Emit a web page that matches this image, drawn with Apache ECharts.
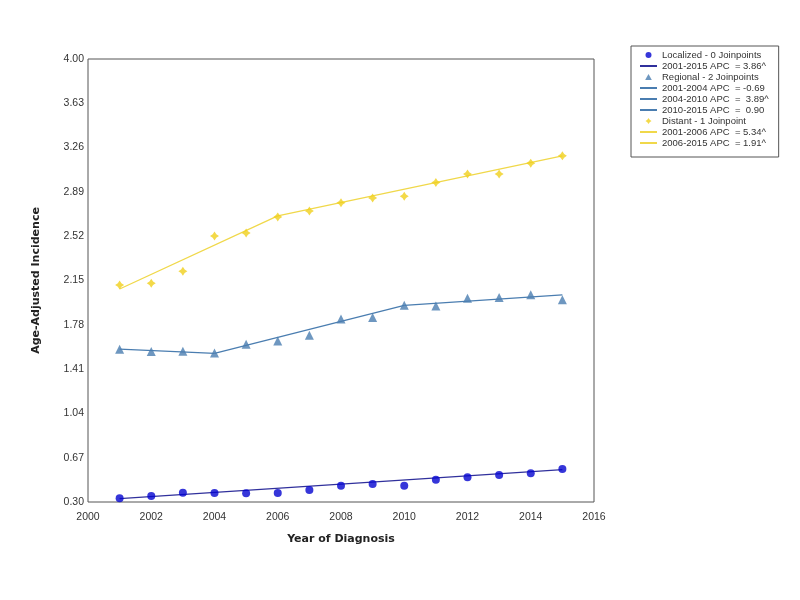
<!DOCTYPE html>
<html><head><meta charset="utf-8">
<script src="https://cdn.jsdelivr.net/npm/echarts@6/dist/echarts.min.js"></script>
<style>html,body{margin:0;padding:0;background:#fff}#c{width:800px;height:600px}</style>
</head><body><div id="c"></div>
<script>
const years = [2001,2002,2003,2004,2005,2006,2007,2008,2009,2010,2011,2012,2013,2014,2015];
const localizedObs = [0.331,0.350,0.378,0.375,0.373,0.375,0.400,0.436,0.450,0.436,0.486,0.506,0.526,0.540,0.576];
const regionalObs  = [1.576,1.556,1.559,1.545,1.617,1.645,1.692,1.828,1.840,1.943,1.937,2.002,2.007,2.032,1.990];
const distantObs   = [2.113,2.127,2.227,2.522,2.547,2.681,2.731,2.800,2.840,2.854,2.968,3.040,3.040,3.130,3.191];

const localizedFitYears = [2001,2015];
const localizedFit      = [0.328,0.570];
const regionalFit1Years = [2001,2004];
const regionalFit1      = [1.576,1.542];
const regionalFit2Years = [2004,2010];
const regionalFit2      = [1.542,1.943];
const regionalFit3Years = [2010,2015];
const regionalFit3      = [1.943,2.030];
const distantFit1Years  = [2001,2006];
const distantFit1       = [2.079,2.690];
const distantFit2Years  = [2006,2015];
const distantFit2       = [2.690,3.191];

const legendNames = [
  'Localized - 0 Joinpoints','2001-2015 APC  = 3.86^',
  'Regional - 2 Joinpoints','2001-2004 APC  = -0.69','2004-2010 APC  =  3.89^','2010-2015 APC  =  0.90',
  'Distant - 1 Joinpoint','2001-2006 APC  = 5.34^','2006-2015 APC  = 1.91^'
];

const zip = (xs, ys) => xs.map((x,i)=>[x, ys[i]]);
const cLoc = '#0404d0', cLocLine = '#30309c', cReg = '#4a7db0', cDist = '#f0d01c', cDistLine = '#f0d84a';
const star = 'path://M0,-10 L4,-4 L10,0 L4,4 L0,10 L-4,4 L-10,0 L-4,-4 Z';
const tri = 'path://M0,-10 L10,8 L-10,8 Z';

function lineS(name, xs, ys, color){
  return {name, type:'line', data: zip(xs, ys), symbol:'none', z:2,
    lineStyle:{color, width:1.3}, itemStyle:{color}, emphasis:{disabled:true}, animation:false};
}
function scatS(name, ys, color, symbol, size){
  return {name, type:'scatter', data: zip(years, ys), symbol, symbolSize:size, z:3,
    itemStyle:{color}, emphasis:{disabled:true}, animation:false};
}
const isLine = [false,true,false,true,true,true,false,true,true];
const legendData = legendNames.map((n,i)=> isLine[i] ? {name:n, itemStyle:{opacity:0}} : {name:n});

const chart = echarts.init(document.getElementById('c'));
chart.setOption({
  animation:false,
  backgroundColor:'#fff',
  textStyle:{fontFamily:'Liberation Sans, Arial, sans-serif'},
  grid:{left:88, right:206, top:59, bottom:98, show:true, borderColor:'#555', borderWidth:1, backgroundColor:'#fff'},
  xAxis:{type:'value', min:2000, max:2016, interval:2,
    name:'Year of Diagnosis', nameLocation:'middle', nameGap:32,
    nameTextStyle:{fontFamily:'DejaVu Sans', fontWeight:'bold', fontSize:11, color:'#222'},
    axisLine:{show:false}, axisTick:{show:false}, splitLine:{show:false},
    axisLabel:{color:'#333', fontSize:10.5, margin:10, formatter:v=>String(v)}},
  yAxis:{type:'value', min:0.3, max:4.0, interval:0.37,
    name:'Age-Adjusted Incidence', nameLocation:'middle', nameGap:46, nameRotate:90,
    nameTextStyle:{fontFamily:'DejaVu Sans', fontWeight:'bold', fontSize:11, color:'#222'},
    axisLine:{show:false}, axisTick:{show:false}, splitLine:{show:false},
    axisLabel:{color:'#333', fontSize:10.5, margin:4, formatter:v=>v.toFixed(2)}},
  legend:{orient:'vertical', left:631, top:46, padding:[4,10,9,8], itemGap:1,
    itemWidth:17, itemHeight:6, borderColor:'#555', borderWidth:1, backgroundColor:'#fff',
    textStyle:{fontSize:9.5, color:'#333', lineHeight:10}, data: legendData, selectedMode:false},
  series:[
    scatS(legendNames[0], localizedObs, cLoc, 'circle', 8),
    lineS(legendNames[1], localizedFitYears, localizedFit, cLocLine),
    scatS(legendNames[2], regionalObs, cReg, tri, 9),
    lineS(legendNames[3], regionalFit1Years, regionalFit1, cReg),
    lineS(legendNames[4], regionalFit2Years, regionalFit2, cReg),
    lineS(legendNames[5], regionalFit3Years, regionalFit3, cReg),
    scatS(legendNames[6], distantObs, cDist, star, 9),
    lineS(legendNames[7], distantFit1Years, distantFit1, cDistLine),
    lineS(legendNames[8], distantFit2Years, distantFit2, cDistLine)
  ]
});
</script></body></html>
